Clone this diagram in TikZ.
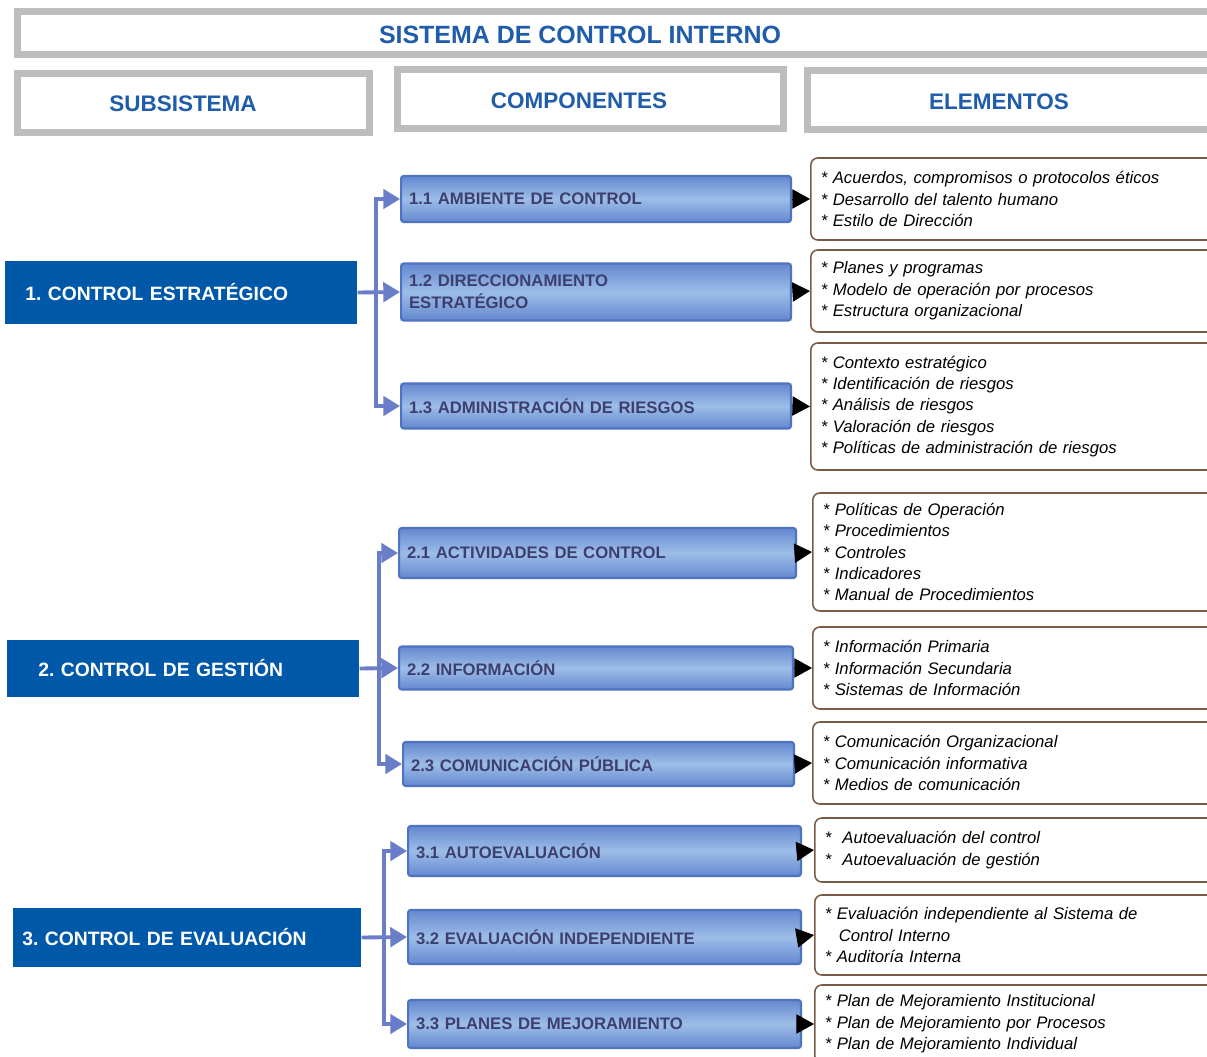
\documentclass[tikz,border=0pt]{standalone}
\usepackage{fontspec}
\setmainfont{Liberation Sans}
\usetikzlibrary{arrows.meta}
\definecolor{framegray}{HTML}{BDBDBD}
\definecolor{titleblue}{HTML}{1F5CAA}
\definecolor{subblue}{HTML}{0058A8}
\definecolor{comprim}{HTML}{4E73C3}
\definecolor{comptop}{HTML}{6488CF}
\definecolor{compmid}{HTML}{9DBDE8}
\definecolor{comptext}{HTML}{3D3F6E}
\definecolor{linkblue}{HTML}{6A7DC9}
\definecolor{elembrown}{HTML}{7B5B45}
\frenchspacing
\begin{document}
\begin{tikzpicture}[x=0.02cm,y=-0.02cm,
    frame/.style={draw=framegray,line width=4pt,fill=white,anchor=west,minimum height=1.18cm},
    head/.style={text=titleblue,font=\bfseries\fontsize{12.8}{15}\selectfont},
    subsys/.style={fill=subblue,text=white,anchor=west,align=left,font=\bfseries\fontsize{11}{13}\selectfont},
    comp/.style={draw=comprim,line width=1.2pt,rounded corners=1.5pt,top color=comptop,bottom color=comptop,middle color=compmid,
      text=comptext,anchor=west,align=left,inner xsep=0.16cm,minimum width=#1cm,text width=#1cm-0.32cm,
      font=\bfseries\fontsize{9.5}{12.5}\selectfont},
    elem/.style={draw=elembrown,line width=0.9pt,rounded corners=4pt,fill=white,anchor=west,align=left,
      inner xsep=0.2cm,text width=7.8cm,font=\itshape\fontsize{9.5}{12.2}\selectfont},
    link/.style={draw=linkblue,line width=2.2pt,-{Triangle[length=9.5pt,width=11pt]}},
    tip/.style={draw=black,line width=0.5pt,-{Triangle[length=10pt,width=11pt]}}]
  \useasboundingbox (0,0) rectangle (1207,1057);

  \node[frame,minimum width=24.03cm,minimum height=0.86cm] (top) at (13.5,33) {};
  \node[head,font=\bfseries\fontsize{14.2}{16}\selectfont] (title) at (580,35) {SISTEMA DE CONTROL INTERNO};
  \node[frame,minimum width=7.06cm] (hsub) at (13.5,103) {};
  \node[head] (tsub) at (183,104) {SUBSISTEMA};
  \node[frame,minimum width=7.74cm] (hcomp) at (393.5,99) {};
  \node[head] (tcomp) at (579,101) {COMPONENTES};
  \node[frame,minimum width=8.23cm] (helem) at (803.5,100) {};
  \node[head] (telem) at (999,102) {ELEMENTOS};

  \node[subsys,minimum width=7.04cm,minimum height=1.26cm,inner xsep=0.4cm,text width=6.24cm] (s1) at (5,292.5) {1. CONTROL ESTRATÉGICO};
  \node[subsys,minimum width=7.04cm,minimum height=1.14cm,inner xsep=0.62cm,text width=5.8cm] (s2) at (7,668.5) {2. CONTROL DE GESTIÓN};
  \node[subsys,minimum width=6.96cm,minimum height=1.18cm,inner xsep=0.18cm,text width=6.6cm] (s3) at (13,937.5) {3. CONTROL DE EVALUACIÓN};

  \node[comp=7.8,minimum height=0.92cm] (c11) at (400,199) {1.1 AMBIENTE DE CONTROL};
  \node[comp=7.8,minimum height=1.14cm] (c12) at (400,292) {1.2 DIRECCIONAMIENTO\\ESTRATÉGICO};
  \node[comp=7.8,minimum height=0.9cm] (c13) at (400,406) {1.3 ADMINISTRACIÓN DE RIESGOS};
  \node[comp=7.94,minimum height=1.0cm] (c21) at (398,553) {2.1 ACTIVIDADES DE CONTROL};
  \node[comp=7.88,minimum height=0.86cm] (c22) at (398,668) {2.2 INFORMACIÓN};
  \node[comp=7.82,minimum height=0.88cm] (c23) at (402,764) {2.3 COMUNICACIÓN PÚBLICA};
  \node[comp=7.86,minimum height=1.0cm] (c31) at (407,851) {3.1 AUTOEVALUACIÓN};
  \node[comp=7.86,minimum height=1.08cm] (c32) at (407,937) {3.2 EVALUACIÓN INDEPENDIENTE};
  \node[comp=7.86,minimum height=0.96cm] (c33) at (407,1024) {3.3 PLANES DE MEJORAMIENTO};

  \node[elem,minimum height=1.64cm] (e11) at (810,199) {* Acuerdos, compromisos o protocolos éticos\\{}* Desarrollo del talento humano\\{}* Estilo de Dirección};
  \node[elem,minimum height=1.64cm] (e12) at (810,291) {* Planes y programas\\{}* Modelo de operación por procesos\\{}* Estructura organizacional};
  \node[elem,minimum height=2.54cm] (e13) at (810,406.5) {* Contexto estratégico\\{}* Identificación de riesgos\\{}* Análisis de riesgos\\{}* Valoración de riesgos\\{}* Políticas de administración de riesgos};
  \node[elem,minimum height=2.36cm] (e21) at (812,552) {* Políticas de Operación\\{}* Procedimientos\\{}* Controles\\{}* Indicadores\\{}* Manual de Procedimientos};
  \node[elem,minimum height=1.64cm] (e22) at (812,668) {* Información Primaria\\{}* Información Secundaria\\{}* Sistemas de Información};
  \node[elem,minimum height=1.64cm] (e23) at (812,763) {* Comunicación Organizacional\\{}* Comunicación informativa\\{}* Medios de comunicación};
  \node[elem,minimum height=1.28cm] (e31) at (814,850) {*\ \ Autoevaluación del control\\{}*\ \ Autoevaluación de gestión};
  \node[elem,minimum height=1.6cm] (e32) at (814,935) {* Evaluación independiente al Sistema de\\\hspace*{0.28cm}Control Interno\\{}* Auditoría Interna};
  \node[elem,minimum height=1.56cm] (e33) at (814,1024) {* Plan de Mejoramiento Institucional\\{}* Plan de Mejoramiento por Procesos\\{}* Plan de Mejoramiento Individual};

  \begin{scope}
    \draw[link] (s1.east) -- (c12.west);
    \draw[link] (s1.east) -- ++(18,0) |- (c11.west);
    \draw[link] (s1.east) -- ++(18,0) |- (c13.west);
    \draw[link] (s2.east) -- (c22.west);
    \draw[link] (s2.east) -- ++(19,0) |- (c21.west);
    \draw[link] (s2.east) -- ++(19,0) |- (c23.west);
    \draw[link] (s3.east) -- (c32.west);
    \draw[link] (s3.east) -- ++(22,0) |- (c31.west);
    \draw[link] (s3.east) -- ++(22,0) |- (c33.west);
  \end{scope}
  \begin{scope}
    \draw[tip] (c11.east) -- (e11.west);
    \draw[tip] (c12.east) -- (e12.west);
    \draw[tip] (c13.east) -- (e13.west);
    \draw[tip] (c21.east) -- (e21.west);
    \draw[tip] (c22.east) -- (e22.west);
    \draw[tip] (c23.east) -- (e23.west);
    \draw[tip] (c31.east) -- (e31.west);
    \draw[tip] (c32.east) -- (e32.west);
    \draw[tip] (c33.east) -- (e33.west);
  \end{scope}
\end{tikzpicture}
\end{document}
